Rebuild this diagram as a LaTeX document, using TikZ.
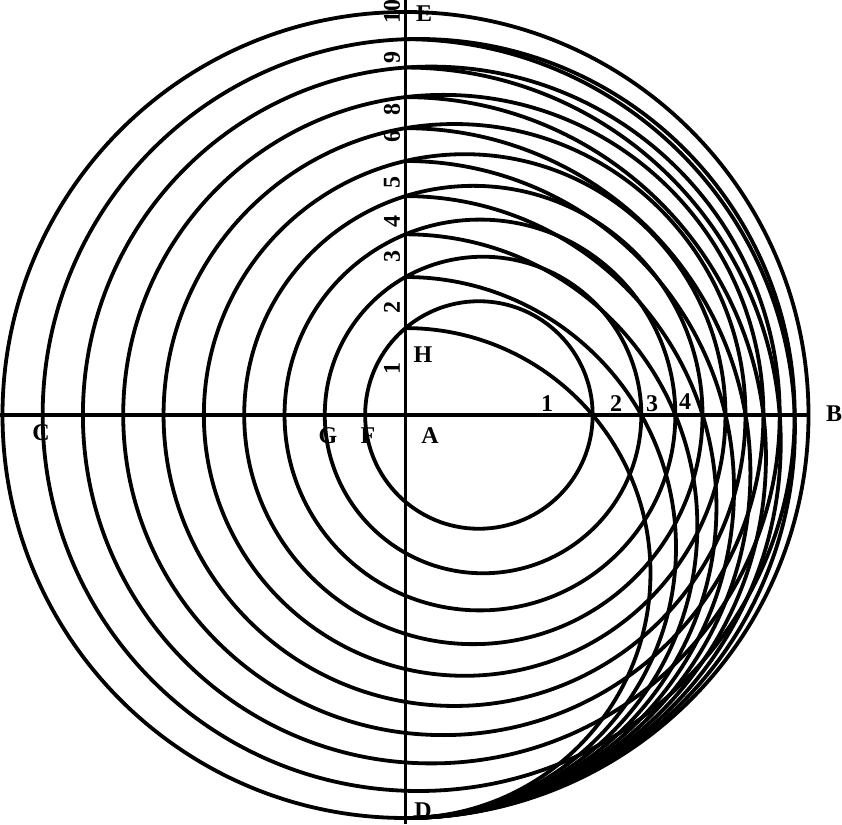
\documentclass[tikz,border=0pt]{standalone}
\usepackage{fontspec}
\setmainfont{Liberation Serif}
\begin{document}
\begin{tikzpicture}[x=1pt,y=1pt,
  curve/.style={line width=3.8pt},
  lab/.style={font=\fontsize{24}{24}\selectfont\bfseries, inner sep=0pt},
  vlab/.style={lab, rotate=90}]
\useasboundingbox (0,0) rectangle (842,824);
\def\AX{405.5}
\def\AY{409}
\def\RR{403}
\coordinate (A) at (\AX,\AY);
% axes
\coordinate (Cend) at (0,\AY);
\coordinate (Bend) at (\AX+\RR,\AY);
\coordinate (Etop) at (\AX,824);
\coordinate (Dbot) at (\AX,0);
\draw[curve] (Cend) -- (Bend);
\draw[curve] (Dbot) -- (Etop);
% big circle
\draw[curve] (A) circle[radius=\RR];
% families of circles: a, h, b, R in continued proportion
\foreach \k in {1,...,9}{
  \pgfmathsetmacro\q{(\k/10)^(1/3)}
  \pgfmathsetmacro\a{\RR*\q*\q*\q}
  \pgfmathsetmacro\h{\RR*\q*\q}
  \pgfmathsetmacro\b{\RR*\q}
  \pgfmathsetmacro\cx{\AX+(\b-\a)/2}
  \pgfmathsetmacro\rl{(\a+\b)/2}
  \pgfmathsetmacro\ty{\AY+\h}
  \pgfmathsetmacro\rr{(\RR+\h)/2}
  \draw[curve] (\cx,\AY) circle[radius=\rl];
  \draw[curve] (\AX,\ty) arc[start angle=90, end angle=-90, radius=\rr];
}
% letters
\node[lab] (lE) at (424,810) {E};
\node[lab] (lB) at (834,410) {B};
\node[lab] (lC) at (41,391) {C};
\node[lab] (lD) at (423,13) {D};
\node[lab] (lA) at (430,388) {A};
\node[lab] (lG) at (328,388) {G};
\node[lab] (lF) at (368,388) {F};
\node[lab] (lH) at (423,469) {H};
% horizontal numbers
\node[lab] (h1) at (547,420) {1};
\node[lab] (h2) at (616,420) {2};
\node[lab] (h3) at (652,420) {3};
\node[lab] (h4) at (685,422) {4};
% vertical numbers
\node[vlab] (v10) at (392,812) {10};
\node[vlab] (v9) at (392,766) {9};
\node[vlab] (v8) at (392,714) {8};
\node[vlab] (v6) at (392,687) {6};
\node[vlab] (v5) at (392,641) {5};
\node[vlab] (v4) at (392,602) {4};
\node[vlab] (v3) at (392,567) {3};
\node[vlab] (v2) at (392,516) {2};
\node[vlab] (v1) at (392,455) {1};
\end{tikzpicture}
\end{document}
